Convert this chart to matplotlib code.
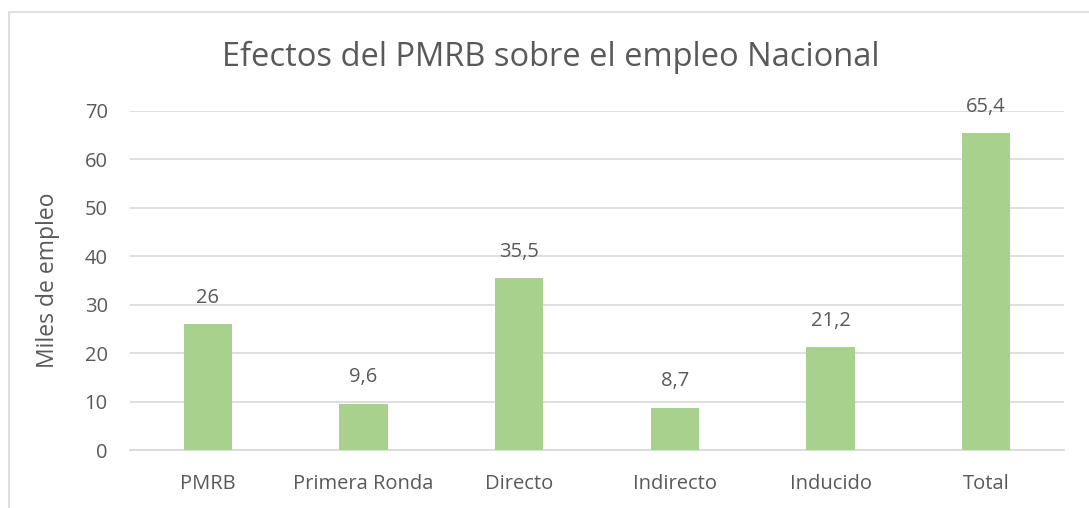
import matplotlib
matplotlib.use("Agg")
import matplotlib.pyplot as plt
from matplotlib.patches import Rectangle

categories = ["PMRB", "Primera Ronda", "Directo", "Indirecto", "Inducido", "Total"]
values = [26, 9.6, 35.5, 8.7, 21.2, 65.4]
labels = ["26", "9,6", "35,5", "8,7", "21,2", "65,4"]
yticks = [0, 10, 20, 30, 40, 50, 60, 70]

plt.rcParams['font.family'] = ['Open Sans', 'DejaVu Sans']
txt = "#595959"
grid = "#D9D9D9"

fig = plt.figure(figsize=(10.89, 5.08), dpi=100)
fig.patch.set_facecolor("white")
fig.patches.append(Rectangle((9/1089, -0.1), 1.2, 1 - 12/508 + 0.1,
                             transform=fig.transFigure, fill=False,
                             edgecolor=grid, linewidth=1.2))

ax = fig.add_axes([130/1089, 1 - 450/508, (1064-130)/1089, (450-111)/508])
x = range(len(categories))
ax.bar(x, values, width=0.31, color="#A9D18E", zorder=3)
ax.set_xlim(-0.5, len(categories) - 0.5)
ax.set_ylim(0, 70)
ax.set_yticks(yticks)
ax.set_xticks(list(x))
ax.set_xticklabels(categories)
ax.tick_params(axis='both', length=0, labelsize=14.5, colors=txt)
ax.tick_params(axis='x', pad=17)
ax.tick_params(axis='y', pad=16)
ax.grid(axis='y', color=grid, linewidth=1.2, zorder=0)
for s in ["top", "right", "left"]:
    ax.spines[s].set_visible(False)
ax.spines["bottom"].set_color(grid)
ax.spines["bottom"].set_linewidth(1.2)

for xi, v, lab in zip(x, values, labels):
    ax.annotate(lab, (xi, v), xytext=(0, 19), textcoords="offset points",
                ha="center", va="center", fontsize=14.5, color=txt)

ax.set_ylabel("Miles de empleo", fontsize=16.5, color=txt)
ax.yaxis.set_label_coords((60 - 130) / (1064 - 130), 0.5)
fig.text(551/1089, 1 - 57/508, "Efectos del PMRB sobre el empleo Nacional",
         ha="center", va="center", fontsize=23.5, color=txt)

fig.savefig("out.png", dpi=100)
